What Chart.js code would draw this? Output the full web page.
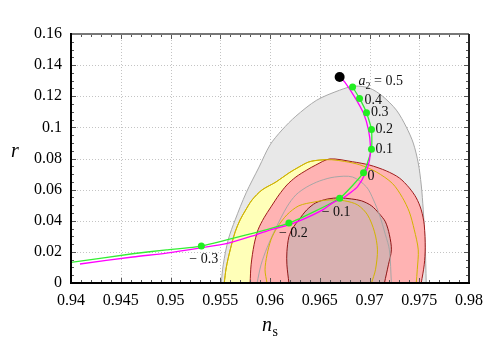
<!DOCTYPE html>
<html><head><meta charset="utf-8">
<script src="https://cdn.jsdelivr.net/npm/chart.js@4.4.0/dist/chart.umd.min.js"></script>
<style>html,body{margin:0;padding:0;background:#fff}</style>
</head><body>
<canvas id="c" width="491" height="343"></canvas>
<script>
// ---- tick values / labels ----
const xTicks = [0.94,0.945,0.95,0.955,0.96,0.965,0.97,0.975,0.98];
const xTickLabels = ['0.94','0.945','0.95','0.955','0.96','0.965','0.97','0.975','0.98'];
const yTicks = [0,0.02,0.04,0.06,0.08,0.10,0.12,0.14,0.16];
const yTickLabels = ['0','0.02','0.04','0.06','0.08','0.1','0.12','0.14','0.16'];

// ---- contours (n_s, r) ----
const grayOuterNs = [0.9551,0.9553,0.9558,0.9565,0.9576,0.9589,0.9600,0.9612,0.9626,0.9647,0.9670,0.9685,0.9700,0.9713,0.9727,0.9737,0.9744,0.9749,0.9752,0.9754,0.9756,0.9757];
const grayOuterR  = [0,0.0117,0.0278,0.0406,0.0579,0.0745,0.0887,0.0983,0.1072,0.1175,0.1239,0.1265,0.1252,0.1201,0.1111,0.1002,0.0899,0.0771,0.0630,0.0470,0.0246,0];

const yellowOuterNs = [0.9554,0.9556,0.9560,0.9565,0.9570,0.9575,0.9582,0.9592,0.9606,0.9619,0.9629,0.9639,0.9650,0.9662,0.9675,0.9690,0.9707,0.9723,0.9733,0.9740,0.9745,0.9749,0.9748,0.9747];
const yellowOuterR  = [0,0.0098,0.0213,0.0329,0.0406,0.0463,0.0534,0.0598,0.0649,0.0707,0.0745,0.0778,0.0790,0.0792,0.0781,0.0760,0.0713,0.0640,0.0550,0.0457,0.0342,0.0213,0.0085,0];

const redNs = [0.9580,0.9581,0.9584,0.9588,0.9594,0.9601,0.9609,0.9617,0.9626,0.9637,0.9646,0.9660,0.9683,0.9700,0.9717,0.9730,0.9740,0.9747,0.9752,0.9755,0.9756,0.9755,0.9752];
const redR  = [0,0.0117,0.0246,0.0342,0.0419,0.0489,0.0566,0.0630,0.0681,0.0726,0.0758,0.0797,0.0779,0.0758,0.0720,0.0675,0.0611,0.0547,0.0470,0.0374,0.0226,0.0117,0];

const darkNs = [0.9619,0.9617,0.9617,0.9619,0.9623,0.9629,0.9637,0.9646,0.9658,0.9670,0.9682,0.9692,0.9702,0.9710,0.9716,0.9720,0.9722,0.9719,0.9715];
const darkR  = [0,0.0117,0.0201,0.0297,0.0354,0.0406,0.0470,0.0515,0.0540,0.0547,0.0540,0.0528,0.0496,0.0444,0.0393,0.0310,0.0213,0.0117,0];

const grayInnerNs = [0.9587,0.9591,0.9597,0.9606,0.9617,0.9626,0.9637,0.9650,0.9665,0.9683,0.9697,0.9704,0.9710,0.9716,0.9720,0.9722];
const grayInnerR  = [0,0.0117,0.0226,0.0354,0.0489,0.0566,0.0617,0.0656,0.0681,0.0681,0.0617,0.0534,0.0438,0.0310,0.0213,0];

const yellowInnerNs = [0.9597,0.9595,0.9597,0.9601,0.9607,0.9617,0.9629,0.9645,0.9660,0.9675,0.9688,0.9698,0.9705,0.9708,0.9706,0.9702];
const yellowInnerR  = [0,0.0085,0.0181,0.0278,0.0354,0.0438,0.0496,0.0521,0.0534,0.0528,0.0502,0.0438,0.0329,0.0213,0.0085,0];

// ---- model curves ----
const greenNs = [0.9369,0.9400,0.9462,0.9496,0.9531,0.9619,0.9670,0.9694,0.9702,0.9702,0.9697,0.9690,0.9683];
const greenR  = [0.0104,0.0132,0.0188,0.0213,0.0237,0.0385,0.0545,0.0709,0.0859,0.0987,0.1094,0.1186,0.1260];

const magentaNs = [0.9409,0.9462,0.9496,0.9529,0.9559,0.9586,0.9602,0.9619,0.9636,0.9653,0.9663,0.9673,0.9680,0.9688,0.9696,0.9700,0.9701,0.9699,0.9694,0.9685,0.9675,0.9670];
const magentaR  = [0.0122,0.0167,0.0192,0.0224,0.0258,0.0310,0.0345,0.0374,0.0417,0.0470,0.0515,0.0545,0.0577,0.0619,0.0707,0.0790,0.0876,0.0983,0.1090,0.1196,0.1292,0.1324];

const a2Labels = ['\u2212 0.3','\u2212 0.2','\u2212 0.1','0','0.1','0.2','0.3','0.4','0.5'];
const a2Ns = [0.9531,0.9619,0.9670,0.9694,0.9702,0.9702,0.9697,0.9690,0.9683];
const a2R  = [0.0237,0.0385,0.0545,0.0709,0.0859,0.0987,0.1094,0.1186,0.1260];

const endNs = [0.9670];
const endR  = [0.1324];

// label placement (pixel offsets from the point)
const labelDx = [-12,-10,-18,4,4,4,4.5,5,6];
const labelDy = [13,10,14,4,0,0,0,2,-6];

const pts = (xs, ys) => xs.map((x, i) => ({x, y: ys[i]}));

function contour(data, fillColor, borderColor, order, fill) {
  return { data, showLine: true, fill: fill ? 'shape' : false, backgroundColor: fillColor,
    borderColor, borderWidth: 1, pointRadius: 0, tension: 0.3, order };
}

const SERIF = '"Liberation Serif", "DejaVu Serif", serif';

const overlay = {
  id: 'overlay',
  beforeDatasetsDraw(chart) {
    const ctx = chart.ctx, xs = chart.scales.x, ys = chart.scales.y, a = chart.chartArea;
    ctx.save();
    ctx.strokeStyle = '#c4c4c4'; ctx.lineWidth = 1; ctx.setLineDash([1, 2]);
    xTicks.forEach(v => { const p = Math.round(xs.getPixelForValue(v)) + 0.5;
      ctx.beginPath(); ctx.moveTo(p, a.top); ctx.lineTo(p, a.bottom); ctx.stroke(); });
    yTicks.forEach(v => { const p = Math.round(ys.getPixelForValue(v)) + 0.5;
      ctx.beginPath(); ctx.moveTo(a.left, p); ctx.lineTo(a.right, p); ctx.stroke(); });
    ctx.restore();
  },
  afterDatasetsDraw(chart) {
    const ctx = chart.ctx, xs = chart.scales.x, ys = chart.scales.y, a = chart.chartArea;
    ctx.save();
    // inward ticks
    ctx.strokeStyle = '#555'; ctx.lineWidth = 1;
    for (let i = 0; i <= 40; i++) {
      const v = 0.94 + i * 0.001, p = Math.round(xs.getPixelForValue(v)) + 0.5;
      const L = (i % 5 === 0) ? 5 : 3;
      ctx.beginPath(); ctx.moveTo(p, a.bottom); ctx.lineTo(p, a.bottom - L);
      ctx.moveTo(p, a.top); ctx.lineTo(p, a.top + L); ctx.stroke();
    }
    for (let i = 0; i <= 32; i++) {
      const v = i * 0.005, p = Math.round(ys.getPixelForValue(v)) + 0.5;
      const L = (i % 4 === 0) ? 5 : 3;
      ctx.beginPath(); ctx.moveTo(a.left, p); ctx.lineTo(a.left + L, p);
      ctx.moveTo(a.right, p); ctx.lineTo(a.right - L, p); ctx.stroke();
    }
    // frame
    ctx.lineWidth = 2;
    ctx.strokeStyle = '#777';
    ctx.beginPath(); ctx.moveTo(a.left, a.top); ctx.lineTo(a.right, a.top); ctx.stroke();
    ctx.strokeStyle = '#222';
    ctx.beginPath(); ctx.moveTo(a.right, a.top); ctx.lineTo(a.right, a.bottom); ctx.stroke();
    ctx.strokeStyle = '#000';
    ctx.beginPath(); ctx.moveTo(a.left, a.top - 1); ctx.lineTo(a.left, a.bottom); ctx.lineTo(a.right + 1, a.bottom); ctx.stroke();

    // a2 labels
    ctx.fillStyle = '#111'; ctx.textBaseline = 'middle'; ctx.textAlign = 'left';
    a2Labels.forEach((t, i) => {
      const px = xs.getPixelForValue(a2Ns[i]) + labelDx[i];
      const py = ys.getPixelForValue(a2R[i]) + labelDy[i];
      if (i === a2Labels.length - 1) {
        ctx.font = 'italic 14px ' + SERIF; ctx.fillText('a', px, py);
        let w = ctx.measureText('a').width;
        ctx.font = '10px ' + SERIF; ctx.fillText('2', px + w, py + 5);
        w += ctx.measureText('2').width;
        ctx.font = '14px ' + SERIF; ctx.fillText(' = ' + t, px + w, py);
      } else {
        ctx.font = '14px ' + SERIF; ctx.fillText(t, px, py);
      }
    });

    // axis titles
    ctx.fillStyle = '#000';
    ctx.font = 'italic 20px ' + SERIF; ctx.textAlign = 'center';
    ctx.fillText('r', 15, 152);
    ctx.textAlign = 'left';
    ctx.fillText('n', 262, 326);
    ctx.font = '14px ' + SERIF; ctx.fillText('s', 272.5, 332);
    ctx.restore();
  }
};

new Chart(document.getElementById('c'), {
  type: 'scatter',
  data: { datasets: [
    { data: pts(endNs, endR), pointRadius: 5, pointBackgroundColor: '#000', pointBorderColor: '#000', pointBorderWidth: 0, order: 0 },
    { data: pts(a2Ns, a2R), pointRadius: 3.5, pointBackgroundColor: '#22ee22', pointBorderColor: '#22ee22', pointBorderWidth: 0, order: 1 },
    { data: pts(magentaNs, magentaR), showLine: true, borderColor: '#ff00ff', borderWidth: 1.3, pointRadius: 0, tension: 0.3, order: 2 },
    { data: pts(greenNs, greenR), showLine: true, borderColor: '#33ee33', borderWidth: 1.3, pointRadius: 0, tension: 0.15, order: 3 },
    contour(pts(yellowInnerNs, yellowInnerR), 'transparent', '#d2b400', 4, false),
    contour(pts(grayInnerNs, grayInnerR), 'transparent', '#a6a6a6', 5, false),
    contour(pts(yellowOuterNs, yellowOuterR), 'transparent', '#d2b400', 5.5, false),
    contour(pts(darkNs, darkR), '#d9b1b1', '#8e1616', 6, true),
    contour(pts(redNs, redR), '#ffb3b3', '#9e1c1c', 7, true),
    contour(pts(yellowOuterNs, yellowOuterR), '#ffffb8', '#c9b200', 8, true),
    contour(pts(grayOuterNs, grayOuterR), '#e8e8e8', '#a8a8a8', 9, true)
  ]},
  options: {
    responsive: false, animation: false, devicePixelRatio: 1,
    layout: { padding: { left: 0, right: 21, top: 34, bottom: 0 } },
    plugins: { legend: { display: false }, tooltip: { enabled: false } },
    scales: {
      x: { type: 'linear', min: 0.94, max: 0.98,
        afterBuildTicks: s => { s.ticks = xTicks.map(v => ({ value: v })); },
        afterFit: s => { s.height = 60; },
        grid: { display: false, drawTicks: false }, border: { display: false },
        ticks: { padding: 8, color: '#000', font: { family: SERIF, size: 16 }, maxRotation: 0, autoSkip: false,
          callback: (v, i) => xTickLabels[i] } },
      y: { type: 'linear', min: 0, max: 0.16,
        afterBuildTicks: s => { s.ticks = yTicks.map(v => ({ value: v })); },
        afterFit: s => { s.width = 71; },
        grid: { display: false, drawTicks: false }, border: { display: false },
        ticks: { padding: 9, color: '#000', font: { family: SERIF, size: 16 }, autoSkip: false,
          callback: (v, i) => yTickLabels[i] } }
    }
  },
  plugins: [overlay]
});
</script>
</body></html>
